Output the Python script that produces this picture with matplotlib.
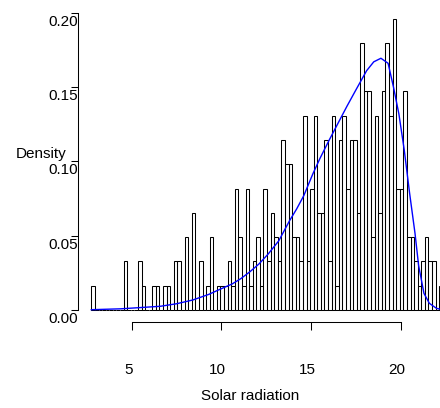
import numpy as np
import matplotlib.pyplot as plt

plt.rcParams['font.family'] = ['Liberation Sans', 'DejaVu Sans']

# histogram: bins of width 0.2 starting at 2.75, counts per bin
bin_start = 2.75
bin_width = 0.2
counts = [1, 0, 0, 0, 0, 0, 0, 0, 0, 2,
          0, 0, 0, 2, 1, 0, 0, 1, 1, 0,
          1, 1, 0, 2, 2, 0, 3, 0, 4, 0,
          2, 0, 1, 3, 0, 1, 1, 1, 2, 1,
          5, 3, 1, 5, 1, 2, 3, 1, 5, 2,
          4, 3, 2, 7, 6, 6, 3, 3, 2, 8,
          2, 5, 8, 4, 4, 7, 2, 8, 1, 7,
          8, 5, 7, 7, 4, 11, 9, 9, 3, 8,
          4, 9, 11, 8, 12, 5, 5, 9, 3, 3,
          2, 1, 2, 3, 2, 2, 0, 1]

# fitted density curve
curve_x = [2.75, 4.4, 5.7, 6.6, 7.5, 8.4, 9.3, 9.9, 10.6, 11.1, 11.6, 12.1,
           12.6, 13.2, 13.8, 14.2, 14.6, 15.1, 15.5, 16.0, 16.5, 17.0,
           17.5, 18.1, 18.5, 18.9, 19.3, 19.6, 19.9, 20.2, 20.5, 20.8,
           21.0, 21.3, 21.6, 22.0, 22.3]
curve_y = [0.0002, 0.0008, 0.0018, 0.0025, 0.0042, 0.0067, 0.0105, 0.0138,
           0.0175, 0.0212, 0.0258, 0.0310, 0.0375, 0.0465, 0.0600, 0.0680,
           0.0770, 0.0915, 0.1020, 0.1140, 0.1255, 0.1370, 0.1480, 0.1610,
           0.1670, 0.1694, 0.1660, 0.1500, 0.1320, 0.1077, 0.0785, 0.0516,
           0.0300, 0.0112, 0.0045, 0.0011, 0.0003]

xticks = [5, 10, 15, 20]
yticks = [0.00, 0.05, 0.10, 0.15, 0.20]
ytick_labels = ['0.00', '0.05', '0.10', '0.15', '0.20']

counts = np.array(counts)
left_edges = bin_start + bin_width * np.arange(len(counts))
density = counts / (counts.sum() * bin_width)

fig = plt.figure(figsize=(4.4, 4.08), dpi=100)
ax = fig.add_axes([77.7 / 440, 86 / 408, 362.3 / 440, 322 / 408])

ax.bar(left_edges, density, width=bin_width, align='edge', fill=False,
       edgecolor='black', linewidth=0.75)
ax.plot(curve_x, curve_y, color='blue', linewidth=1.0)

ax.set_xlim(1.99, 22.194)
ax.set_ylim(-0.00808, 0.2086)

for s in ['top', 'right']:
    ax.spines[s].set_visible(False)
ax.spines['left'].set_bounds(0, 0.2)
ax.spines['bottom'].set_bounds(5, 20)
ax.spines['left'].set_linewidth(0.75)
ax.spines['bottom'].set_linewidth(0.75)

ax.set_xticks(xticks)
ax.set_yticks(yticks)
ax.tick_params(direction='out', length=5.4, width=0.75,
               labelbottom=False, labelleft=False)

# R-style tick labels, slightly offset from their ticks
for t in xticks:
    ax.annotate(str(t), xy=(t, 0), xycoords=('data', 'axes fraction'),
                xytext=(-2.5, -37.5), textcoords='offset points',
                ha='center', va='baseline', fontsize=11)
for t, lab in zip(yticks, ytick_labels):
    ax.annotate(lab, xy=(0, t), xycoords=('axes fraction', 'data'),
                xytext=(0, -9.4), textcoords='offset points',
                ha='right', va='baseline', fontsize=11)

fig.text(250 / 440, 1 - 400 / 408, 'Solar radiation', ha='center',
         va='baseline', fontsize=11)
fig.text(41 / 440, 1 - 158 / 408, 'Density', ha='center',
         va='baseline', fontsize=11)

fig.savefig('out.png', dpi=100)
